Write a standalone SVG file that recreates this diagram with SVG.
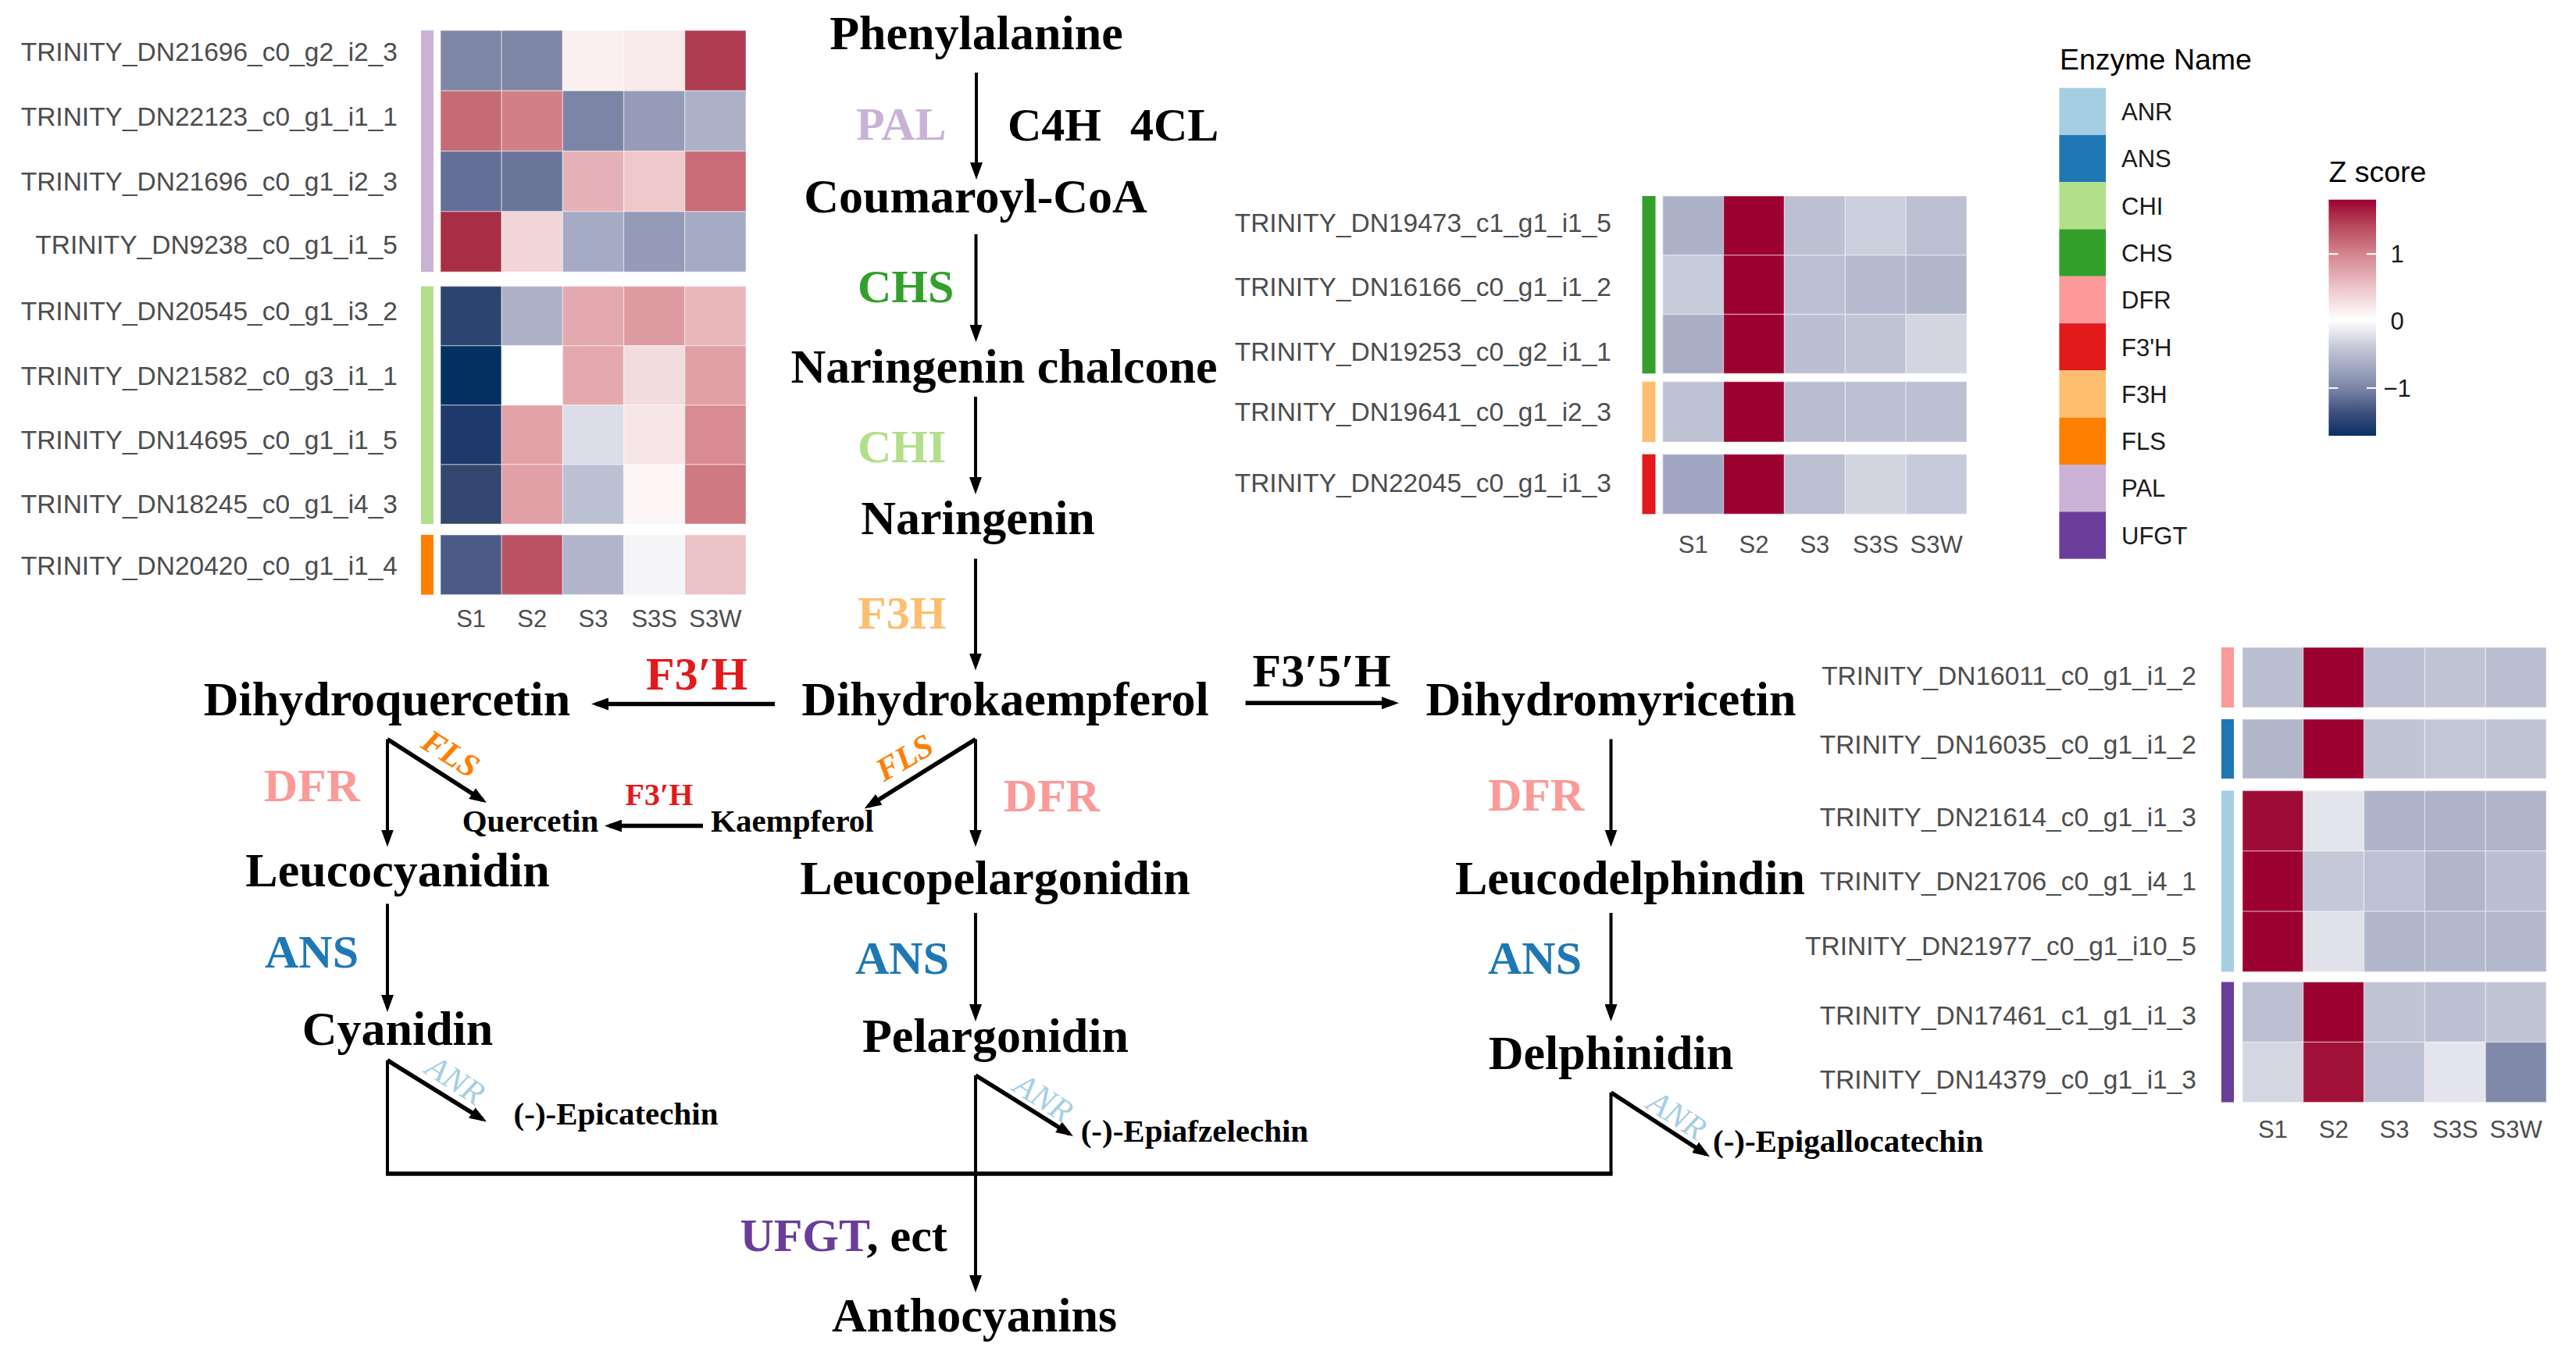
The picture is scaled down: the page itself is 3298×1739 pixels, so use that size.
<svg xmlns="http://www.w3.org/2000/svg" width="3298" height="1739" viewBox="0 0 3298 1739">
<style>
.cmp{font-family:"Liberation Serif","Times New Roman",serif;font-weight:bold;font-size:62px;fill:#000;text-anchor:middle}
.sm{font-family:"Liberation Serif","Times New Roman",serif;font-weight:bold;font-size:41px;fill:#000}
.enz{font-family:"Liberation Serif","Times New Roman",serif;font-weight:bold;font-size:60px}
.rot{font-family:"Liberation Serif","Times New Roman",serif;font-style:italic;text-anchor:middle}
.rl{font-family:"Liberation Sans",Arial,sans-serif;font-size:33.5px;fill:#4d4d4d;text-anchor:end}
.ax{font-family:"Liberation Sans",Arial,sans-serif;font-size:31px;fill:#4d4d4d;text-anchor:middle}
.lg{font-family:"Liberation Sans",Arial,sans-serif;font-size:31px;fill:#1a1a1a}
.lt{font-family:"Liberation Sans",Arial,sans-serif;font-size:37.5px;fill:#000}
.hm rect{stroke:#ffffff;stroke-opacity:0.35;stroke-width:1.5}
.v{stroke:#000;stroke-width:4;fill:none}
.t{stroke:#000;stroke-width:5.5;fill:none}
</style>
<defs>
<marker id="ah" markerUnits="userSpaceOnUse" viewBox="0 0 22 16" markerWidth="22" markerHeight="16" refX="16" refY="8" orient="auto">
<path d="M0,0 L22,8 L0,16 z" fill="#000"/>
</marker>
<linearGradient id="zg" x1="0" y1="0" x2="0" y2="1">
<stop offset="0" stop-color="#9b0031"/>
<stop offset="0.1" stop-color="#b54258"/>
<stop offset="0.23" stop-color="#d4858e"/>
<stop offset="0.37" stop-color="#ecc4c8"/>
<stop offset="0.51" stop-color="#ffffff"/>
<stop offset="0.63" stop-color="#c3c6d7"/>
<stop offset="0.8" stop-color="#7a84a6"/>
<stop offset="0.9" stop-color="#3e507e"/>
<stop offset="1" stop-color="#0a2f63"/>
</linearGradient>
</defs>
<rect width="3298" height="1739" fill="#fff"/>

<!-- Left heatmap -->
<g id="heatmap-left">
<rect x="539" y="39" width="16" height="309.2" fill="#cab2d6"/>
<rect x="539" y="366.6" width="16" height="304.4" fill="#b2df8a"/>
<rect x="539" y="685" width="16" height="76.5" fill="#ff7f00"/>
<g class="hm">
<rect x="564" y="39" width="78.2" height="77.3" fill="#7f87a6"/><rect x="642.2" y="39" width="78.2" height="77.3" fill="#7f87a6"/><rect x="720.4" y="39" width="78.2" height="77.3" fill="#fbf0f0"/><rect x="798.6" y="39" width="78.2" height="77.3" fill="#f8eaea"/><rect x="876.8" y="39" width="78.2" height="77.3" fill="#b03c52"/>
<rect x="564" y="116.3" width="78.2" height="77.3" fill="#c66a74"/><rect x="642.2" y="116.3" width="78.2" height="77.3" fill="#d37f87"/><rect x="720.4" y="116.3" width="78.2" height="77.3" fill="#7c85a5"/><rect x="798.6" y="116.3" width="78.2" height="77.3" fill="#959bb8"/><rect x="876.8" y="116.3" width="78.2" height="77.3" fill="#adb1c8"/>
<rect x="564" y="193.6" width="78.2" height="77.3" fill="#646f97"/><rect x="642.2" y="193.6" width="78.2" height="77.3" fill="#6b769b"/><rect x="720.4" y="193.6" width="78.2" height="77.3" fill="#e6b1b6"/><rect x="798.6" y="193.6" width="78.2" height="77.3" fill="#eec8cb"/><rect x="876.8" y="193.6" width="78.2" height="77.3" fill="#c96c77"/>
<rect x="564" y="270.9" width="78.2" height="77.3" fill="#a82e45"/><rect x="642.2" y="270.9" width="78.2" height="77.3" fill="#f2d5d7"/><rect x="720.4" y="270.9" width="78.2" height="77.3" fill="#a5abc4"/><rect x="798.6" y="270.9" width="78.2" height="77.3" fill="#949ab7"/><rect x="876.8" y="270.9" width="78.2" height="77.3" fill="#a5abc4"/>
<rect x="564" y="366.6" width="78.2" height="76.1" fill="#2c4470"/><rect x="642.2" y="366.6" width="78.2" height="76.1" fill="#adb1c8"/><rect x="720.4" y="366.6" width="78.2" height="76.1" fill="#e3a8ad"/><rect x="798.6" y="366.6" width="78.2" height="76.1" fill="#dd9aa0"/><rect x="876.8" y="366.6" width="78.2" height="76.1" fill="#e9b6ba"/>
<rect x="564" y="442.7" width="78.2" height="76.1" fill="#023162"/><rect x="642.2" y="442.7" width="78.2" height="76.1" fill="#fefefe"/><rect x="720.4" y="442.7" width="78.2" height="76.1" fill="#e4a9ae"/><rect x="798.6" y="442.7" width="78.2" height="76.1" fill="#f3dcde"/><rect x="876.8" y="442.7" width="78.2" height="76.1" fill="#e0a0a6"/>
<rect x="564" y="518.8" width="78.2" height="76.1" fill="#1e3a6b"/><rect x="642.2" y="518.8" width="78.2" height="76.1" fill="#e0a2a7"/><rect x="720.4" y="518.8" width="78.2" height="76.1" fill="#dcdde6"/><rect x="798.6" y="518.8" width="78.2" height="76.1" fill="#f7e6e7"/><rect x="876.8" y="518.8" width="78.2" height="76.1" fill="#d88b93"/>
<rect x="564" y="594.9" width="78.2" height="76.1" fill="#32466f"/><rect x="642.2" y="594.9" width="78.2" height="76.1" fill="#e0a0a5"/><rect x="720.4" y="594.9" width="78.2" height="76.1" fill="#bcc0d3"/><rect x="798.6" y="594.9" width="78.2" height="76.1" fill="#fdf6f6"/><rect x="876.8" y="594.9" width="78.2" height="76.1" fill="#cf7982"/>
<rect x="564" y="685" width="78.2" height="76.5" fill="#4b5a86"/><rect x="642.2" y="685" width="78.2" height="76.5" fill="#bb5263"/><rect x="720.4" y="685" width="78.2" height="76.5" fill="#b0b5cb"/><rect x="798.6" y="685" width="78.2" height="76.5" fill="#f5f5f8"/><rect x="876.8" y="685" width="78.2" height="76.5" fill="#ebc2c5"/>
</g>
<text class="rl" x="509" y="78">TRINITY_DN21696_c0_g2_i2_3</text>
<text class="rl" x="509" y="161">TRINITY_DN22123_c0_g1_i1_1</text>
<text class="rl" x="509" y="243.5">TRINITY_DN21696_c0_g1_i2_3</text>
<text class="rl" x="509" y="325">TRINITY_DN9238_c0_g1_i1_5</text>
<text class="rl" x="509" y="410">TRINITY_DN20545_c0_g1_i3_2</text>
<text class="rl" x="509" y="492.5">TRINITY_DN21582_c0_g3_i1_1</text>
<text class="rl" x="509" y="574.5">TRINITY_DN14695_c0_g1_i1_5</text>
<text class="rl" x="509" y="657">TRINITY_DN18245_c0_g1_i4_3</text>
<text class="rl" x="509" y="736">TRINITY_DN20420_c0_g1_i1_4</text>
<text class="ax" x="603.1" y="803">S1</text><text class="ax" x="681.3" y="803">S2</text><text class="ax" x="759.5" y="803">S3</text><text class="ax" x="837.7" y="803">S3S</text><text class="ax" x="915.9" y="803">S3W</text>
</g>

<!-- Middle heatmap -->
<g id="heatmap-middle">
<rect x="2102.5" y="251" width="17" height="227.3" fill="#33a02c"/>
<rect x="2102.5" y="488.7" width="17" height="77.3" fill="#fdbf6f"/>
<rect x="2102.5" y="581.7" width="17" height="76.6" fill="#e31a1c"/>
<g class="hm">
<rect x="2128.75" y="251" width="77.85" height="75.8" fill="#acb1c8"/><rect x="2206.6" y="251" width="77.85" height="75.8" fill="#9b0031"/><rect x="2284.5" y="251" width="77.85" height="75.8" fill="#bcc0d2"/><rect x="2362.4" y="251" width="77.85" height="75.8" fill="#cbcedc"/><rect x="2440.2" y="251" width="77.85" height="75.8" fill="#bcc0d2"/>
<rect x="2128.75" y="326.8" width="77.85" height="75.7" fill="#c8cbda"/><rect x="2206.6" y="326.8" width="77.85" height="75.7" fill="#9b0031"/><rect x="2284.5" y="326.8" width="77.85" height="75.7" fill="#bcc0d2"/><rect x="2362.4" y="326.8" width="77.85" height="75.7" fill="#b6bace"/><rect x="2440.2" y="326.8" width="77.85" height="75.7" fill="#b3b7cc"/>
<rect x="2128.75" y="402.5" width="77.85" height="75.8" fill="#a9aec6"/><rect x="2206.6" y="402.5" width="77.85" height="75.8" fill="#9b0031"/><rect x="2284.5" y="402.5" width="77.85" height="75.8" fill="#bbbfd2"/><rect x="2362.4" y="402.5" width="77.85" height="75.8" fill="#c0c4d5"/><rect x="2440.2" y="402.5" width="77.85" height="75.8" fill="#d3d5e1"/>
<rect x="2128.75" y="488.7" width="77.85" height="77.3" fill="#bec1d3"/><rect x="2206.6" y="488.7" width="77.85" height="77.3" fill="#9b0031"/><rect x="2284.5" y="488.7" width="77.85" height="77.3" fill="#b9bdd0"/><rect x="2362.4" y="488.7" width="77.85" height="77.3" fill="#bcc0d2"/><rect x="2440.2" y="488.7" width="77.85" height="77.3" fill="#bcc0d2"/>
<rect x="2128.75" y="581.7" width="77.85" height="76.6" fill="#a0a6c1"/><rect x="2206.6" y="581.7" width="77.85" height="76.6" fill="#9b0031"/><rect x="2284.5" y="581.7" width="77.85" height="76.6" fill="#bcc0d2"/><rect x="2362.4" y="581.7" width="77.85" height="76.6" fill="#d2d4e0"/><rect x="2440.2" y="581.7" width="77.85" height="76.6" fill="#c7cada"/>
</g>
<text class="rl" x="2063" y="297">TRINITY_DN19473_c1_g1_i1_5</text>
<text class="rl" x="2063" y="379">TRINITY_DN16166_c0_g1_i1_2</text>
<text class="rl" x="2063" y="462">TRINITY_DN19253_c0_g2_i1_1</text>
<text class="rl" x="2063" y="539">TRINITY_DN19641_c0_g1_i2_3</text>
<text class="rl" x="2063" y="630">TRINITY_DN22045_c0_g1_i1_3</text>
<text class="ax" x="2167.7" y="708">S1</text><text class="ax" x="2245.5" y="708">S2</text><text class="ax" x="2323.4" y="708">S3</text><text class="ax" x="2401.3" y="708">S3S</text><text class="ax" x="2479.1" y="708">S3W</text>
</g>

<!-- Right heatmap -->
<g id="heatmap-right">
<rect x="2844" y="829" width="16" height="77" fill="#fb9a99"/>
<rect x="2844" y="921" width="16" height="76" fill="#1f78b4"/>
<rect x="2844" y="1012.5" width="16" height="231.9" fill="#a6cee3"/>
<rect x="2844" y="1257.5" width="16" height="154" fill="#6a3d9a"/>
<g class="hm">
<rect x="2871" y="829" width="77.8" height="77" fill="#bbbfd2"/><rect x="2948.8" y="829" width="77.8" height="77" fill="#9b0031"/><rect x="3026.6" y="829" width="77.8" height="77" fill="#bcc0d2"/><rect x="3104.4" y="829" width="77.8" height="77" fill="#c0c4d5"/><rect x="3182.2" y="829" width="77.8" height="77" fill="#babed1"/>
<rect x="2871" y="921" width="77.8" height="76" fill="#b3b7cc"/><rect x="2948.8" y="921" width="77.8" height="76" fill="#9b0031"/><rect x="3026.6" y="921" width="77.8" height="76" fill="#c0c4d5"/><rect x="3104.4" y="921" width="77.8" height="76" fill="#c3c6d7"/><rect x="3182.2" y="921" width="77.8" height="76" fill="#c0c4d5"/>
<rect x="2871" y="1012.5" width="77.8" height="77.3" fill="#9e0c35"/><rect x="2948.8" y="1012.5" width="77.8" height="77.3" fill="#e4e5ec"/><rect x="3026.6" y="1012.5" width="77.8" height="77.3" fill="#aeb3c9"/><rect x="3104.4" y="1012.5" width="77.8" height="77.3" fill="#aeb3c9"/><rect x="3182.2" y="1012.5" width="77.8" height="77.3" fill="#b0b5ca"/>
<rect x="2871" y="1089.8" width="77.8" height="77.3" fill="#9b0031"/><rect x="2948.8" y="1089.8" width="77.8" height="77.3" fill="#c5c8d8"/><rect x="3026.6" y="1089.8" width="77.8" height="77.3" fill="#bdc1d3"/><rect x="3104.4" y="1089.8" width="77.8" height="77.3" fill="#b1b6cb"/><rect x="3182.2" y="1089.8" width="77.8" height="77.3" fill="#bbbfd2"/>
<rect x="2871" y="1167.1" width="77.8" height="77.3" fill="#9b0031"/><rect x="2948.8" y="1167.1" width="77.8" height="77.3" fill="#dfe0e8"/><rect x="3026.6" y="1167.1" width="77.8" height="77.3" fill="#b1b6cb"/><rect x="3104.4" y="1167.1" width="77.8" height="77.3" fill="#b4b8cd"/><rect x="3182.2" y="1167.1" width="77.8" height="77.3" fill="#b4b8cd"/>
<rect x="2871" y="1257.5" width="77.8" height="77" fill="#bcc0d2"/><rect x="2948.8" y="1257.5" width="77.8" height="77" fill="#9b0031"/><rect x="3026.6" y="1257.5" width="77.8" height="77" fill="#c0c4d5"/><rect x="3104.4" y="1257.5" width="77.8" height="77" fill="#bcc0d2"/><rect x="3182.2" y="1257.5" width="77.8" height="77" fill="#c0c4d5"/>
<rect x="2871" y="1334.5" width="77.8" height="77" fill="#d4d6e2"/><rect x="2948.8" y="1334.5" width="77.8" height="77" fill="#a01037"/><rect x="3026.6" y="1334.5" width="77.8" height="77" fill="#bdc1d3"/><rect x="3104.4" y="1334.5" width="77.8" height="77" fill="#e4e5ec"/><rect x="3182.2" y="1334.5" width="77.8" height="77" fill="#8189aa"/>
</g>
<text class="rl" x="2812" y="877">TRINITY_DN16011_c0_g1_i1_2</text>
<text class="rl" x="2812" y="965">TRINITY_DN16035_c0_g1_i1_2</text>
<text class="rl" x="2812" y="1058">TRINITY_DN21614_c0_g1_i1_3</text>
<text class="rl" x="2812" y="1140">TRINITY_DN21706_c0_g1_i4_1</text>
<text class="rl" x="2812" y="1223">TRINITY_DN21977_c0_g1_i10_5</text>
<text class="rl" x="2812" y="1312">TRINITY_DN17461_c1_g1_i1_3</text>
<text class="rl" x="2812" y="1394">TRINITY_DN14379_c0_g1_i1_3</text>
<text class="ax" x="2909.9" y="1457">S1</text><text class="ax" x="2987.7" y="1457">S2</text><text class="ax" x="3065.5" y="1457">S3</text><text class="ax" x="3143.3" y="1457">S3S</text><text class="ax" x="3221.1" y="1457">S3W</text>
</g>

<!-- Enzyme legend -->
<g id="legend-enzyme">
<text class="lt" x="2637" y="89">Enzyme Name</text>
<rect x="2636.4" y="112.6" width="59.7" height="60.3" fill="#a6cee3"/>
<rect x="2636.4" y="172.9" width="59.7" height="60.3" fill="#1f78b4"/>
<rect x="2636.4" y="233.2" width="59.7" height="60.3" fill="#b2df8a"/>
<rect x="2636.4" y="293.5" width="59.7" height="60.3" fill="#33a02c"/>
<rect x="2636.4" y="353.8" width="59.7" height="60.3" fill="#fb9a99"/>
<rect x="2636.4" y="414.1" width="59.7" height="60.3" fill="#e31a1c"/>
<rect x="2636.4" y="474.4" width="59.7" height="60.3" fill="#fdbf6f"/>
<rect x="2636.4" y="534.7" width="59.7" height="60.3" fill="#ff7f00"/>
<rect x="2636.4" y="595" width="59.7" height="60.3" fill="#cab2d6"/>
<rect x="2636.4" y="655.3" width="59.7" height="60.3" fill="#6a3d9a"/>
<text class="lg" x="2716" y="154">ANR</text>
<text class="lg" x="2716" y="214">ANS</text>
<text class="lg" x="2716" y="275">CHI</text>
<text class="lg" x="2716" y="335">CHS</text>
<text class="lg" x="2716" y="395">DFR</text>
<text class="lg" x="2716" y="456">F3'H</text>
<text class="lg" x="2716" y="516">F3H</text>
<text class="lg" x="2716" y="576">FLS</text>
<text class="lg" x="2716" y="636">PAL</text>
<text class="lg" x="2716" y="697">UFGT</text>
</g>

<!-- Z score legend -->
<g id="legend-zscore">
<text class="lt" x="2981.4" y="232.8">Z score</text>
<rect x="2981.4" y="255.7" width="60.6" height="302.3" fill="url(#zg)"/>
<g stroke="#ffffff" stroke-width="2">
<line x1="2981.4" y1="325.2" x2="2993.5" y2="325.2"/><line x1="3030" y1="325.2" x2="3042" y2="325.2"/>
<line x1="2981.4" y1="410.6" x2="2993.5" y2="410.6"/><line x1="3030" y1="410.6" x2="3042" y2="410.6"/>
<line x1="2981.4" y1="496.9" x2="2993.5" y2="496.9"/><line x1="3030" y1="496.9" x2="3042" y2="496.9"/>
</g>
<text class="lg" x="3069" y="336" text-anchor="middle">1</text>
<text class="lg" x="3069" y="421.6" text-anchor="middle">0</text>
<text class="lg" x="3069" y="508" text-anchor="middle">−1</text>
</g>

<!-- Connectors -->
<g id="connectors">
<line class="v" x1="1250" y1="93" x2="1250" y2="224" marker-end="url(#ah)"/>
<line class="v" x1="1249.5" y1="300" x2="1249.5" y2="432" marker-end="url(#ah)"/>
<line class="v" x1="1249" y1="508" x2="1249" y2="627" marker-end="url(#ah)"/>
<line class="v" x1="1249" y1="715.5" x2="1249" y2="852.6" marker-end="url(#ah)"/>
<line class="t" x1="992" y1="901.5" x2="763" y2="901.5" marker-end="url(#ah)"/>
<line class="t" x1="1594.6" y1="900.2" x2="1785" y2="900.2" marker-end="url(#ah)"/>
<line class="v" x1="496" y1="946.6" x2="496" y2="1078.5" marker-end="url(#ah)"/>
<line class="t" x1="496" y1="946.6" x2="618" y2="1024.8" marker-end="url(#ah)"/>
<line class="t" x1="900" y1="1057.6" x2="780" y2="1057.6" marker-end="url(#ah)"/>
<line class="t" x1="1249" y1="946.6" x2="1111.7" y2="1032.3" marker-end="url(#ah)"/>
<line class="v" x1="1249" y1="946.6" x2="1249" y2="1078.5" marker-end="url(#ah)"/>
<line class="v" x1="2062.5" y1="946.6" x2="2062.5" y2="1078.5" marker-end="url(#ah)"/>
<line class="v" x1="496" y1="1157.4" x2="496" y2="1290" marker-end="url(#ah)"/>
<line class="v" x1="1249" y1="1169" x2="1249" y2="1302" marker-end="url(#ah)"/>
<line class="v" x1="2062.5" y1="1169" x2="2062.5" y2="1302" marker-end="url(#ah)"/>
<line class="t" x1="496" y1="1357.7" x2="617.9" y2="1433.4" marker-end="url(#ah)"/>
<line class="t" x1="1249" y1="1377" x2="1368.9" y2="1451.8" marker-end="url(#ah)"/>
<line class="t" x1="2062.5" y1="1399" x2="2184" y2="1478" marker-end="url(#ah)"/>
<polyline class="v" points="496,1357.7 496,1503"/>
<polyline class="v" points="2062.5,1399 2062.5,1503"/>
<line class="v" x1="1249" y1="1377" x2="1249" y2="1503"/>
<line class="t" x1="494" y1="1503" x2="2064.5" y2="1503"/>
<line class="v" x1="1249" y1="1503" x2="1249" y2="1649" marker-end="url(#ah)"/>
</g>

<!-- Compound nodes -->
<g id="n-phenylalanine"><text class="cmp" x="1250" y="63">Phenylalanine</text></g>
<g id="n-coumaroyl"><text class="cmp" x="1249" y="272">Coumaroyl-CoA</text></g>
<g id="n-naringenin-chalcone"><text class="cmp" x="1285.5" y="490">Naringenin chalcone</text></g>
<g id="n-naringenin"><text class="cmp" x="1252" y="683.5">Naringenin</text></g>
<g id="n-dihydrokaempferol"><text class="cmp" x="1287" y="916">Dihydrokaempferol</text></g>
<g id="n-dihydroquercetin"><text class="cmp" x="495.5" y="915.5">Dihydroquercetin</text></g>
<g id="n-dihydromyricetin"><text class="cmp" x="2062.5" y="916">Dihydromyricetin</text></g>
<g id="n-leucocyanidin"><text class="cmp" x="509" y="1134.5">Leucocyanidin</text></g>
<g id="n-leucopelargonidin"><text class="cmp" x="1274" y="1145">Leucopelargonidin</text></g>
<g id="n-leucodelphindin"><text class="cmp" x="2087" y="1145">Leucodelphindin</text></g>
<g id="n-cyanidin"><text class="cmp" x="509" y="1338">Cyanidin</text></g>
<g id="n-pelargonidin"><text class="cmp" x="1274.5" y="1347">Pelargonidin</text></g>
<g id="n-delphinidin"><text class="cmp" x="2062.5" y="1368.5">Delphinidin</text></g>
<g id="n-anthocyanins"><text class="cmp" x="1247.5" y="1705">Anthocyanins</text></g>
<g id="n-quercetin"><text class="sm" x="591.7" y="1065">Quercetin</text></g>
<g id="n-kaempferol"><text class="sm" x="910" y="1065">Kaempferol</text></g>
<g id="n-epicatechin"><text class="sm" x="657.6" y="1440">(-)-Epicatechin</text></g>
<g id="n-epiafzelechin"><text class="sm" x="1383.7" y="1461.7">(-)-Epiafzelechin</text></g>
<g id="n-epigallocatechin"><text class="sm" x="2193" y="1474.8">(-)-Epigallocatechin</text></g>

<!-- Enzyme labels -->
<g id="enzyme-labels">
<text class="enz" x="1096" y="178.5" fill="#cab2d6">PAL</text>
<text class="enz" y="179.6" fill="#000"><tspan x="1290">C4H</tspan><tspan x="1447">4CL</tspan></text>
<text class="enz" x="1098" y="387" fill="#33a02c">CHS</text>
<text class="enz" x="1098" y="592" fill="#b2df8a">CHI</text>
<text class="enz" x="1098" y="805" fill="#fdbf6f">F3H</text>
<text class="enz" x="827" y="883" fill="#e31a1c">F3′H</text>
<text class="enz" x="1603.6" y="878.5" fill="#000">F3′5′H</text>
<text class="enz" x="337.7" y="1026" fill="#fb9a99">DFR</text>
<text class="enz" x="1284.8" y="1039" fill="#fb9a99">DFR</text>
<text class="enz" x="1905" y="1037.7" fill="#fb9a99">DFR</text>
<text class="enz" x="339" y="1238.5" fill="#1f78b4">ANS</text>
<text class="enz" x="1095" y="1247" fill="#1f78b4">ANS</text>
<text class="enz" x="1905" y="1247" fill="#1f78b4">ANS</text>
<text class="enz" x="800.6" y="1031" fill="#e31a1c" style="font-size:40px">F3′H</text>
<text class="enz" x="947.4" y="1601.7"><tspan fill="#6a3d9a">UFGT</tspan><tspan fill="#000">, ect</tspan></text>
<text class="rot" transform="translate(577,965) rotate(32)" x="0" y="14" style="font-size:42px;font-weight:bold" fill="#ff7f00">FLS</text>
<text class="rot" transform="translate(1158,970) rotate(-30)" x="0" y="14" style="font-size:42px;font-weight:bold" fill="#ff7f00">FLS</text>
<text class="rot" transform="translate(583,1383) rotate(33)" x="0" y="14" style="font-size:42px" fill="#a6cee3">ANR</text>
<text class="rot" transform="translate(1336,1406) rotate(33)" x="0" y="14" style="font-size:42px" fill="#a6cee3">ANR</text>
<text class="rot" transform="translate(2147,1428) rotate(33)" x="0" y="14" style="font-size:42px" fill="#a6cee3">ANR</text>
</g>
</svg>
